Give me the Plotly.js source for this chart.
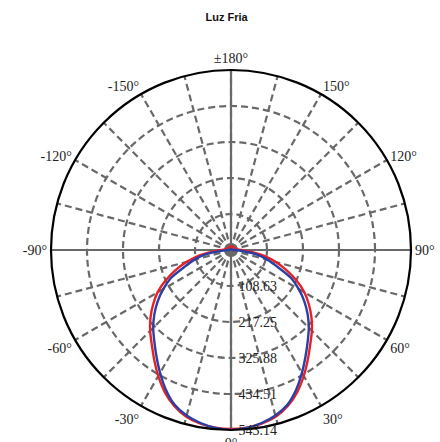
<!DOCTYPE html>
<html>
<head>
<meta charset="utf-8">
<script src="https://cdn.plot.ly/plotly-3.0.1.min.js"></script>
<style>html,body{margin:0;padding:0;background:#fff;}#chart{width:440px;height:442px;}</style>
</head>
<body>
<div id="chart"></div>
<script>
// Angles (degrees, 0 = straight down)
var angles = [-180,-170,-160,-150,-140,-130,-120,-110,-100,-95,-90,-85,-80,-75,-70,-65,-60,-55,-50,-45,-40,-35,-30,-25,-20,-15,-10,-5,0,
              5,10,15,20,25,30,35,40,45,50,55,60,65,70,75,80,85,90,95,100,110,120,130,140,150,160,170,180];
// Red curve intensity
var redValues = [11,11,11,11,11,11,11,12,14,18,28,55,100,138,178,218,256,287,317,345,372,404,439,473,501,521,532,538,540,
                 538,532,521,501,473,439,404,372,345,317,287,256,218,178,140,102,62,32,20,15,12,11,11,11,11,11,11,11];
// Blue curve intensity
var blueValues = [3,3,3,3,3,3,3,3,4,5,8,30,78,115,150,200,236,270,302,332,360,392,428,465,497,517,530,539,543,
                  539,530,517,497,465,428,392,360,332,302,270,236,200,150,115,80,34,10,5,4,3,3,3,3,3,3,3,3];
var radialTicks = [108.63, 217.25, 325.88, 434.51, 543.14];
var radialTickText = ['\u00a0\u00a0108.63','\u00a0\u00a0217.25','\u00a0\u00a0325.88','\u00a0\u00a0434.51','\u00a0\u00a0543.14'];
var angTickVals = [0,15,30,45,60,75,90,105,120,135,150,165,180,195,210,225,240,255,270,285,300,315,330,345];
var angTickText = ['0°','','30°','','60°','','90°','','120°','','150°','','±180°','','-150°','','-120°','','-90°','','-60°','','-30°',''];
var rMax = 543.14;

var axisLineStyle = {color:'rgb(105,105,105)', width:2.2};
var traces = [
  {type:'scatterpolar', mode:'lines', r:[rMax,0,rMax], theta:[0,0,180], line:axisLineStyle, hoverinfo:'skip', showlegend:false},
  {type:'scatterpolar', mode:'lines', r:[rMax,0,rMax], theta:[90,90,270], line:axisLineStyle, hoverinfo:'skip', showlegend:false},
  {type:'scatterpolar', mode:'lines', r:redValues, theta:angles, line:{color:'rgb(232,32,40)', width:2.4, shape:'spline', smoothing:0.8}, showlegend:false},
  {type:'scatterpolar', mode:'lines', r:blueValues, theta:angles, line:{color:'rgb(42,64,165)', width:2.4, shape:'spline', smoothing:0.8}, showlegend:false}
];

var layout = {
  width:440, height:442,
  margin:{l:51, r:29, t:70, b:12},
  paper_bgcolor:'#fff',
  showlegend:false,
  title:{text:'<b>Luz Fria</b>', font:{family:'Liberation Sans, Arial, sans-serif', size:11, color:'#111'}, x:0.515, xanchor:'center', y:0.962, yanchor:'middle'},
  polar:{
    bgcolor:'#fff',
    domain:{x:[0,1], y:[0,1]},
    angularaxis:{
      rotation:270, direction:'counterclockwise',
      tickmode:'array', tickvals:angTickVals, ticktext:angTickText,
      showline:true, linecolor:'#000', linewidth:2.2,
      showgrid:true, gridcolor:'rgb(105,105,105)', gridwidth:2.2, griddash:'7px,4px',
      ticks:'', tickfont:{family:'Liberation Serif, Times New Roman, serif', size:14, color:'#222'}
    },
    radialaxis:{
      range:[0, rMax], angle:270, tickangle:-90, side:'counterclockwise',
      tickmode:'array', tickvals:radialTicks, ticktext:radialTickText,
      showline:false, ticks:'',
      showgrid:true, gridcolor:'rgb(105,105,105)', gridwidth:2.2, griddash:'7px,4px',
      tickfont:{family:'Liberation Serif, Times New Roman, serif', size:14, color:'#222'}
    }
  }
};
Plotly.newPlot('chart', traces, layout, {displayModeBar:false, staticPlot:true});
</script>
</body>
</html>
